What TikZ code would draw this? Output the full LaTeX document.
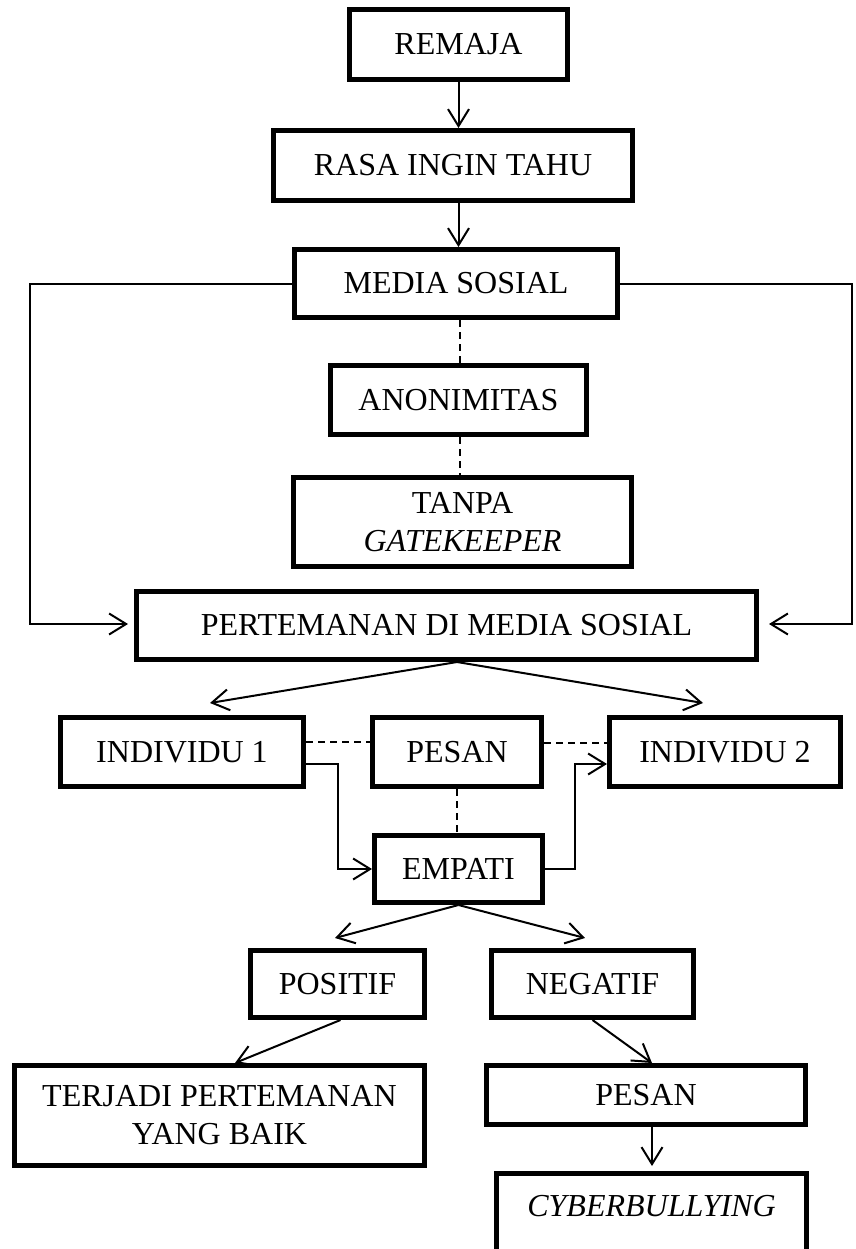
\documentclass[tikz,border=0pt]{standalone}
\usepackage{fontspec}
\setmainfont{Liberation Serif}
\usetikzlibrary{arrows.meta}
\begin{document}
\begin{tikzpicture}[x=1pt,y=-1pt,
  box/.style={draw, line width=5pt, rectangle, inner sep=0pt, align=center,
    font=\fontsize{32}{38}\selectfont},
  arr/.style={line width=2pt, -{Straight Barb[length=17pt,width=21pt,line width=2pt]}},
  dsh/.style={line width=2pt, dash pattern=on 7pt off 5pt}]

\useasboundingbox (0,0) rectangle (855,1249);
\clip (0,0) rectangle (855,1249);

% boxes
\node[box, minimum width=218pt, minimum height=70pt] (remaja) at (458.5,44.5) {REMAJA};
\node[box, minimum width=359pt, minimum height=70pt] (rasa) at (453,165.5) {RASA INGIN TAHU};
\node[box, minimum width=323pt, minimum height=68pt] (media) at (456,283.5) {MEDIA SOSIAL};
\node[box, minimum width=256pt, minimum height=69pt] (anon) at (458.5,400) {ANONIMITAS};
\node[box, minimum width=338pt, minimum height=89pt] (tanpa) at (462.5,522) {TANPA\\\textit{GATEKEEPER}};
\node[box, minimum width=620pt, minimum height=68pt] (pert) at (446.5,625.5) {PERTEMANAN DI MEDIA SOSIAL};
\node[box, minimum width=243pt, minimum height=69pt] (ind1) at (182,752) {INDIVIDU 1};
\node[box, minimum width=169pt, minimum height=69pt] (pesan) at (457,752) {PESAN};
\node[box, minimum width=231pt, minimum height=69pt] (ind2) at (725,752) {INDIVIDU 2};
\node[box, minimum width=168pt, minimum height=67pt] (empati) at (458.5,869) {EMPATI};
\node[box, minimum width=174pt, minimum height=67pt] (positif) at (337.5,984) {POSITIF};
\node[box, minimum width=202pt, minimum height=67pt] (negatif) at (592.5,984) {NEGATIF};
\node[box, minimum width=410pt, minimum height=100pt] (terjadi) at (219.5,1115.5) {TERJADI PERTEMANAN\\YANG BAIK};
\node[box, minimum width=319pt, minimum height=59pt] (pesan2) at (646,1095) {PESAN};
\node[box, minimum width=310pt, text height=43pt, text depth=100pt, anchor=north] (cyber) at (651.5,1171) {\textit{CYBERBULLYING}};

% helper coordinates
\coordinate (xd) at (460,0);
\coordinate (lc) at (30,624);
\coordinate (tipL) at (128,624);
\coordinate (rc) at (852,624);
\coordinate (tipR) at (769,624);
\coordinate (t1) at (210,703);
\coordinate (t2) at (703,703);
\coordinate (t3) at (335,938);
\coordinate (t4) at (585,938);
\coordinate (t5) at (235,1063);
\coordinate (t6) at (652,1063);
\coordinate (t7) at (652,1166);

% connectors
\draw[arr] (remaja.south) -- (remaja.south |- rasa.north);
\draw[arr] (rasa.south -| remaja) -- (media.north -| remaja);
\draw[arr] (media.west) -| (lc) -- (tipL);
\draw[arr] (media.east) -| (rc) -- (tipR);
\draw[dsh] (media.south -| xd) -- (anon.north -| xd);
\draw[dsh] (anon.south -| xd) -- (tanpa.north -| xd);
\draw[arr] (pert.south -| pesan) -- (t1);
\draw[arr] (pert.south -| pesan) -- (t2);
\draw[dsh] ([yshift=10pt]ind1.east) -- ([yshift=10pt]pesan.west);
\draw[dsh] ([yshift=9pt]pesan.east) -- ([yshift=9pt]ind2.west);
\draw[dsh] (pesan.south) -- (pesan.south |- empati.north);
\draw[arr] ([yshift=-12pt]ind1.east) -- ++(32,0) |- (empati.west);
\draw[arr] (empati.east) -- ++(30,0) |- ([yshift=-12pt]ind2.west);
\draw[arr] (empati.south) -- (t3);
\draw[arr] (empati.south) -- (t4);
\draw[arr] ([xshift=3pt]positif.south) -- (t5);
\draw[arr] (negatif.south) -- (t6);
\draw[arr] (pesan2.south -| t7) -- (t7);
\end{tikzpicture}
\end{document}
